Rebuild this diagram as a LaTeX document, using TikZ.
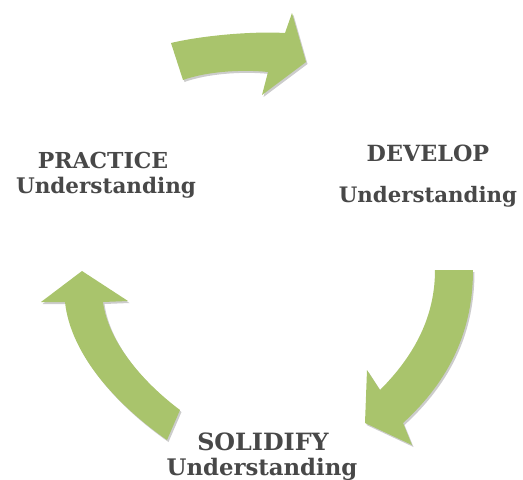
\documentclass[tikz,border=0pt]{standalone}
\usepackage{fontspec}
\setmainfont{DejaVu Serif}
\usepackage{xcolor}
\usepackage{tikz}
\usetikzlibrary{shadows}
\definecolor{LeafGreen}{HTML}{A9C46C}
\definecolor{InkGray}{HTML}{484848}

\begin{document}
\begin{tikzpicture}[x=1pt, y=-1pt,
		cyclearrow/.style={fill=LeafGreen, drop shadow={shadow xshift=1.5pt, shadow yshift=-2pt, opacity=0.2, fill=black}},
		label/.style={text=InkGray, inner sep=0pt, font=\bfseries\fontsize{#1}{#1}\selectfont}]
		\useasboundingbox (0,0) rectangle (523,480);
		
		% top arrow
		\fill [cyclearrow] (171,43) .. controls (200,36) and (250,31) .. (285,33) -- (292,13) -- (306,62) -- (262,95) -- (268,72) .. controls (240,69) and (205,72) .. (183,80) -- cycle;
		
		% right arrow
		\fill [cyclearrow] (435,270) -- (473,270) .. controls (473,330) and (450,380) .. (403,423) -- (412,445) -- (365,423) -- (367,370) -- (380,390) .. controls (420,350) and (435,310) .. (435,270) -- cycle;
		
		% left arrow
		\fill [cyclearrow] (180,410) -- (167,440) .. controls (110,400) and (70,350) .. (65,302) -- (41,302) -- (82,271) -- (128,301) -- (103,302) .. controls (108,340) and (140,380) .. (180,410) -- cycle;
		
		\node [label=22] (practice) at (103,160) {PRACTICE};
		\node [label=21.5] (practiceU) at (106,188) {Understanding};
		
		\node [label=22.3] (develop) at (428,153) {DEVELOP};
		\node [label=21.3] (developU) at (428,197) {Understanding};
		
		\node [label=23.8] (solidify) at (263,442) {SOLIDIFY};
		\node [label=22.8] (solidifyU) at (262,469) {Understanding};
	\end{tikzpicture}
\end{document}
